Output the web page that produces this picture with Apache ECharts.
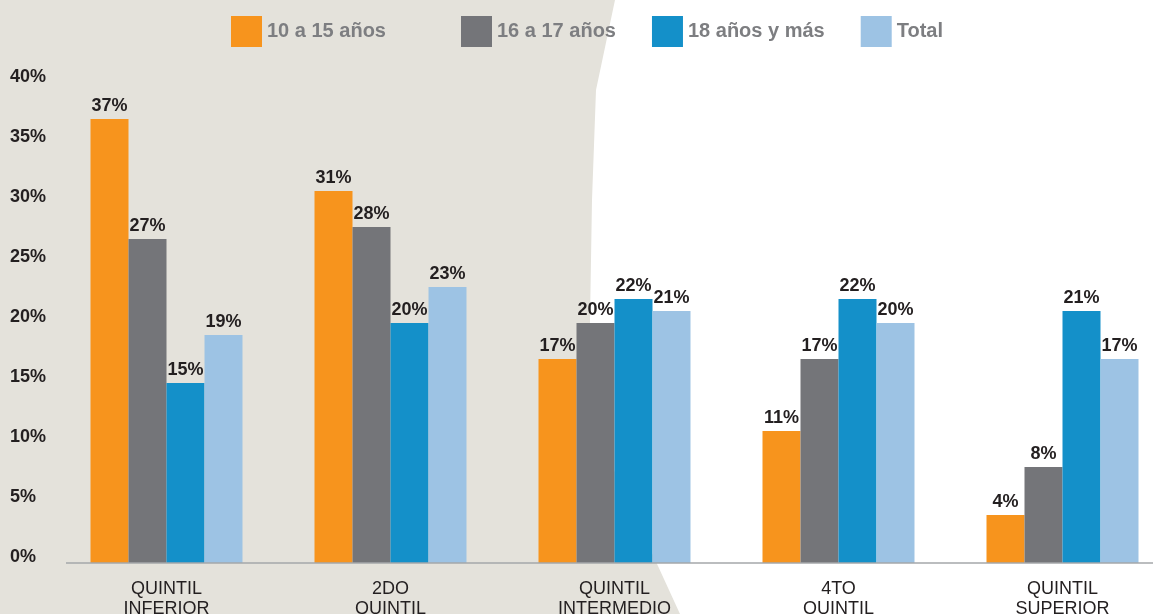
<!DOCTYPE html>
<html>
<head>
<meta charset="utf-8">
<title>Quintiles por grupo de edad</title>
<script src="https://cdn.jsdelivr.net/npm/echarts@6/dist/echarts.min.js"></script>
<style>
  html, body { margin: 0; padding: 0; background: #ffffff; }
  #chart { width: 1153px; height: 614px; }
</style>
</head>
<body>
<div id="chart"></div>
<script>
// Categories (income quintiles) and the share for each age group, in percent
const categories = ['QUINTIL\nINFERIOR', '2DO\nQUINTIL', 'QUINTIL\nINTERMEDIO', '4TO\nQUINTIL', 'QUINTIL\nSUPERIOR'];
const seriesNames = ['10 a 15 años', '16 a 17 años', '18 años y más', 'Total'];
const edad10a15 = [37, 31, 17, 11, 4];
const edad16a17 = [27, 28, 20, 17, 8];
const edad18mas = [15, 20, 22, 22, 21];
const total = [19, 23, 21, 20, 17];
const yTicks = { min: 0, max: 40, interval: 5 };

const colors = ['#f7941d', '#747579', '#1490c9', '#9dc3e4'];
const FONT = "'Liberation Sans', Arial, Helvetica, sans-serif";
const DARK = '#231f20';

const chart = echarts.init(document.getElementById('chart'), null, { renderer: 'canvas' });

function barSeries(name, data, color) {
  return {
    name: name,
    type: 'bar',
    data: data,
    barWidth: 38,
    barGap: '0%',
    itemStyle: { color: color },
    label: {
      show: true,
      position: 'top',
      distance: 4,
      formatter: '{c}%',
      fontFamily: FONT,
      fontWeight: 'bold',
      fontSize: 18,
      color: DARK
    }
  };
}

const legendText = { fontFamily: FONT, fontWeight: 'bold', fontSize: 20, color: '#7d7e81' };

chart.setOption({
  animation: false,
  backgroundColor: '#ffffff',
  color: colors,
  textStyle: { fontFamily: FONT },
  graphic: [
    {
      // beige backdrop panel on the left side
      type: 'polygon',
      z: -10,
      silent: true,
      shape: {
        points: [[0, 0], [615, 0], [596, 90], [592, 200], [590, 320], [591, 420], [680, 614], [0, 614]]
      },
      style: { fill: '#e4e2db' }
    },
    {
      // baseline under the bars
      type: 'line',
      z: 10,
      silent: true,
      shape: { x1: 66, y1: 563, x2: 1153, y2: 563 },
      style: { stroke: '#a5a7aa', lineWidth: 1.5 }
    }
  ],
  legend: [
    {
      data: [seriesNames[0]],
      left: 231,
      top: 16,
      padding: 0,
      icon: 'rect',
      itemWidth: 31,
      itemHeight: 31,
      textStyle: legendText
    },
    {
      data: seriesNames.slice(1),
      left: 461,
      top: 16,
      padding: 0,
      icon: 'rect',
      itemGap: 36,
      itemWidth: 31,
      itemHeight: 31,
      textStyle: legendText
    }
  ],
  grid: {
    left: 54.5,
    width: 1120,
    top: 83,
    bottom: 51,
    outerBoundsMode: 'none',
    containLabel: false
  },
  xAxis: {
    type: 'category',
    data: categories,
    axisLine: { show: false },
    axisTick: { show: false },
    axisLabel: {
      interval: 0,
      margin: 16,
      fontFamily: FONT,
      fontSize: 18,
      lineHeight: 20,
      color: DARK
    }
  },
  yAxis: {
    type: 'value',
    min: yTicks.min,
    max: yTicks.max,
    interval: yTicks.interval,
    axisLine: { show: false },
    axisTick: { show: false },
    splitLine: { show: false },
    axisLabel: {
      align: 'left',
      verticalAlign: 'bottom',
      lineHeight: 12,
      margin: 44.5,
      formatter: '{value}%',
      fontFamily: FONT,
      fontWeight: 'bold',
      fontSize: 18,
      color: DARK
    }
  },
  series: [
    barSeries(seriesNames[0], edad10a15, colors[0]),
    barSeries(seriesNames[1], edad16a17, colors[1]),
    barSeries(seriesNames[2], edad18mas, colors[2]),
    barSeries(seriesNames[3], total, colors[3])
  ]
});
</script>
</body>
</html>
